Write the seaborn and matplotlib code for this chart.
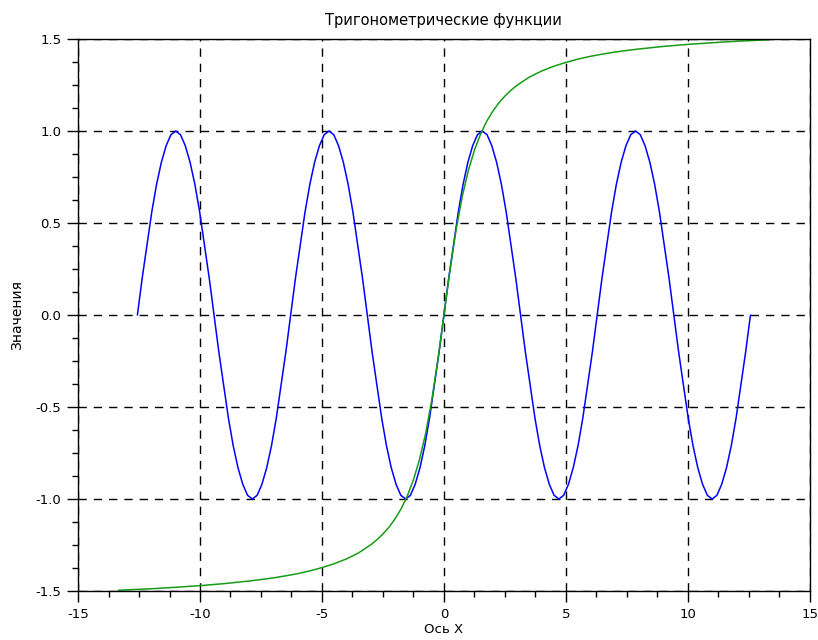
import numpy as np
import pandas as pd
import seaborn as sns
import matplotlib.pyplot as plt
from matplotlib.ticker import MultipleLocator, FormatStrFormatter

# sine curve, read at steps of pi/16 from -4pi to 4pi (one row per period)
sin_x = np.linspace(-4 * np.pi, 4 * np.pi, 129)
sin_y = [
    0, 0.2, 0.38, 0.56, 0.71, 0.83, 0.92, 0.98, 1, 0.98, 0.92, 0.83, 0.71, 0.56, 0.38, 0.2,
    0, -0.2, -0.38, -0.56, -0.71, -0.83, -0.92, -0.98, -1, -0.98, -0.92, -0.83, -0.71, -0.56, -0.38, -0.2,
    0, 0.2, 0.38, 0.56, 0.71, 0.83, 0.92, 0.98, 1, 0.98, 0.92, 0.83, 0.71, 0.56, 0.38, 0.2,
    0, -0.2, -0.38, -0.56, -0.71, -0.83, -0.92, -0.98, -1, -0.98, -0.92, -0.83, -0.71, -0.56, -0.38, -0.2,
    0, 0.2, 0.38, 0.56, 0.71, 0.83, 0.92, 0.98, 1, 0.98, 0.92, 0.83, 0.71, 0.56, 0.38, 0.2,
    0, -0.2, -0.38, -0.56, -0.71, -0.83, -0.92, -0.98, -1, -0.98, -0.92, -0.83, -0.71, -0.56, -0.38, -0.2,
    0, 0.2, 0.38, 0.56, 0.71, 0.83, 0.92, 0.98, 1, 0.98, 0.92, 0.83, 0.71, 0.56, 0.38, 0.2,
    0, -0.2, -0.38, -0.56, -0.71, -0.83, -0.92, -0.98, -1, -0.98, -0.92, -0.83, -0.71, -0.56, -0.38, -0.2,
    0,
]

# arctangent curve, positive half (the other half is its mirror)
atan_x_pos = [0, 0.25, 0.5, 0.75, 1, 1.25, 1.5, 1.75, 2, 2.25, 2.5, 2.75, 3, 3.5, 4, 4.5,
              5, 5.5, 6, 6.5, 7, 7.5, 8, 9, 10, 11, 12, 13.35]
atan_y_pos = [0, 0.245, 0.464, 0.644, 0.785, 0.896, 0.983, 1.052, 1.107, 1.153, 1.190,
              1.222, 1.249, 1.293, 1.326, 1.352, 1.373, 1.391, 1.406, 1.418, 1.429,
              1.438, 1.446, 1.460, 1.471, 1.480, 1.488, 1.496]
atan_x = [-v for v in atan_x_pos[:0:-1]] + atan_x_pos
atan_y = [-v for v in atan_y_pos[:0:-1]] + atan_y_pos

title = "Тригонометрические функции"
xlabel = "Ось X"
ylabel = "Значения"

df_sin = pd.DataFrame({"x": sin_x, "y": sin_y})
df_atan = pd.DataFrame({"x": atan_x, "y": atan_y})

sns.set_style("white")
plt.rcParams["font.family"] = ["DejaVu Sans"]
plt.rcParams["axes.unicode_minus"] = False
plt.rcParams["text.color"] = "black"
plt.rcParams["axes.labelcolor"] = "black"

fig = plt.figure(figsize=(8.18, 6.40), dpi=100)
ax = fig.add_axes([0.0954, 0.0766, 0.8946, 0.8624])

sns.lineplot(data=df_sin, x="x", y="y", color="#0000ff", lw=1.1, sort=False, estimator=None, ax=ax)
sns.lineplot(data=df_atan, x="x", y="y", color="#169c16", lw=1.1, sort=False, estimator=None, ax=ax)

ax.set_xlim(-15, 15)
ax.set_ylim(-1.5, 1.5)
ax.xaxis.set_major_locator(MultipleLocator(5))
ax.xaxis.set_minor_locator(MultipleLocator(1.25))
ax.yaxis.set_major_locator(MultipleLocator(0.5))
ax.yaxis.set_minor_locator(MultipleLocator(0.125))
ax.yaxis.set_major_formatter(FormatStrFormatter("%.1f"))
ax.tick_params(which="both", bottom=True, left=True, top=False, right=False)
ax.tick_params(which="major", direction="out", length=8, width=1, colors="black", labelsize=9.5, pad=4)
ax.tick_params(which="minor", direction="out", length=4, width=1, colors="black")
ax.grid(True, which="major", color="black", linestyle=(0, (6, 5)), linewidth=1)

for s in ax.spines.values():
    s.set_color("black")
    s.set_linewidth(1)

ax.set_title(title, fontsize=10.5, pad=10, color="black")
ax.set_xlabel(xlabel, fontsize=9.5, labelpad=2)
ax.set_ylabel(ylabel, fontsize=10, labelpad=8)

fig.savefig("out.png", dpi=100)
